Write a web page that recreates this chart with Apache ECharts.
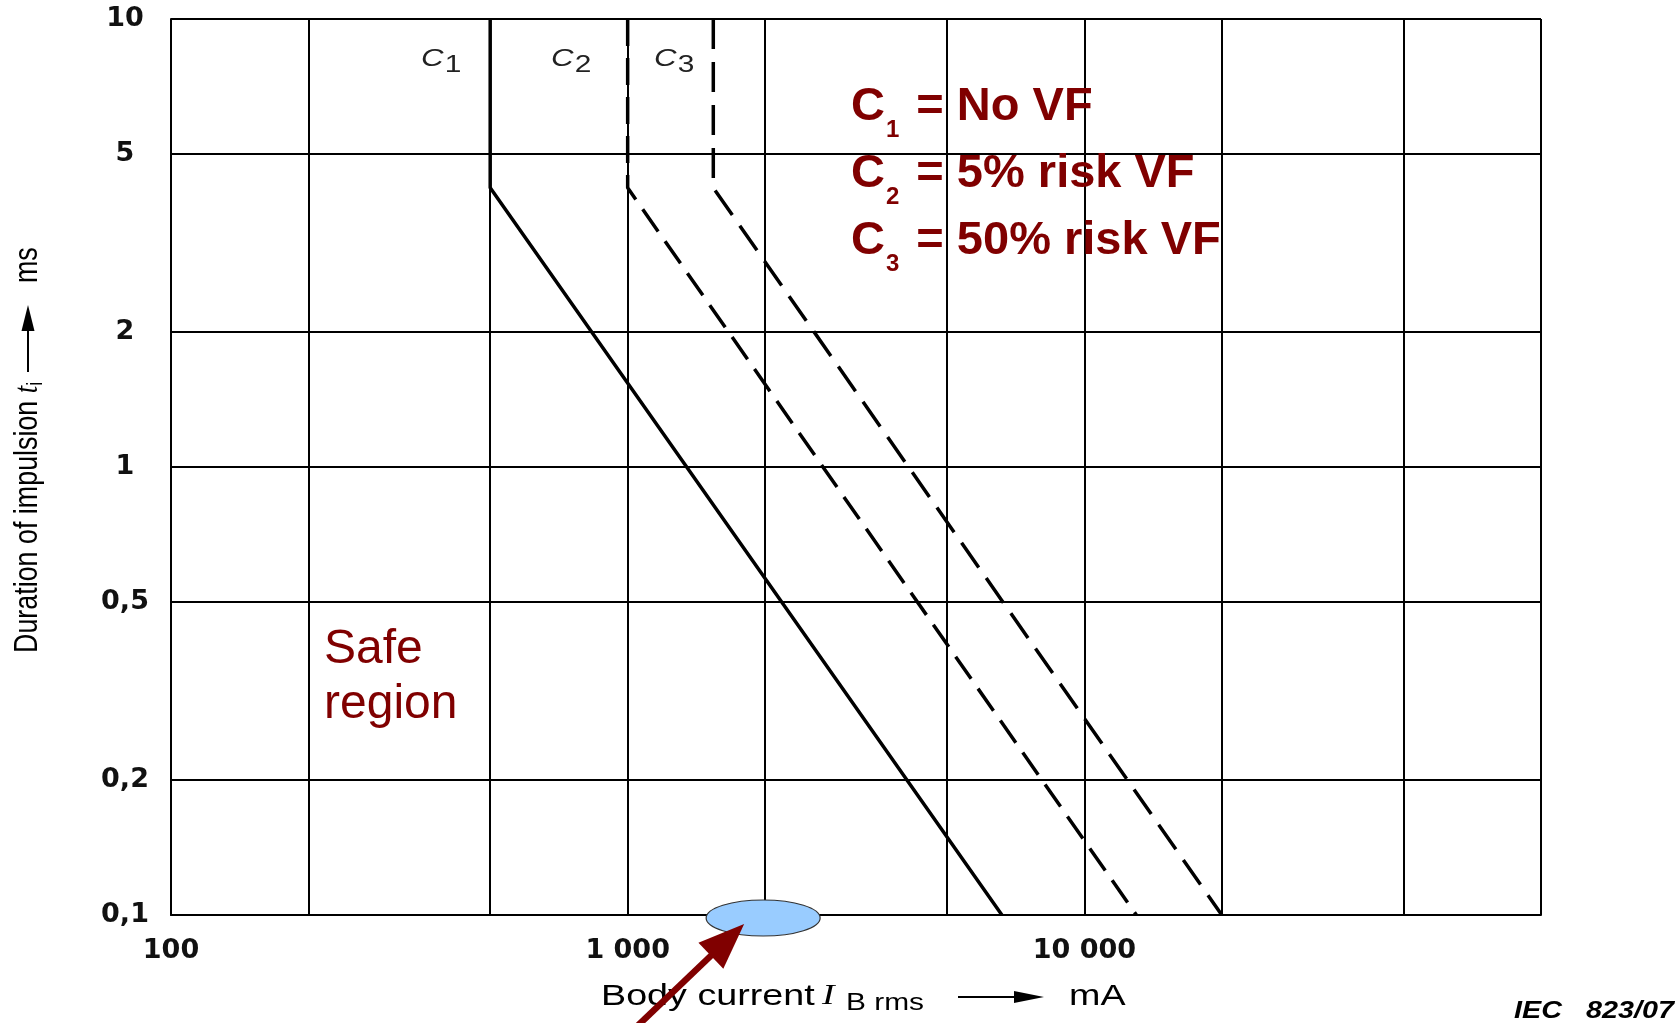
<!DOCTYPE html>
<html>
<head>
<meta charset="utf-8">
<title>Impulse current – VF thresholds</title>
<script src="https://cdn.jsdelivr.net/npm/echarts@6/dist/echarts.min.js"></script>
<style>
  html, body { margin: 0; padding: 0; background: #fff; }
  #chart { width: 1678px; height: 1023px; }
</style>
</head>
<body>
<div id="chart"></div>
<script>
// body current (mA) / impulse duration (ms)
const c1Current = [500, 500, 6600];
const c1Duration = [10, 4.2, 0.1];
const c2Current = [1000, 1000, 13000];
const c2Duration = [10, 4.2, 0.1];
const c3Current = [1540, 1540, 20000];
const c3Duration = [10, 4.2, 0.1];

const xGridValues = [100, 200, 500, 1000, 2000, 5000, 10000, 20000, 50000, 100000];
const xLabelValues = [100, 1000, 10000];
const yGridValues = [0.1, 0.2, 0.5, 1, 2, 5, 10];

const legendLines = [
  ['1', ' = No VF'],
  ['2', ' = 5% risk VF'],
  ['3', ' = 50% risk VF']
];

const pairs = (xs, ys) => xs.map((x, i) => [x, ys[i]]);
const thousands = v => String(v).replace(/\B(?=(\d{3})+(?!\d))/g, ' ');
const decimalComma = v => String(v).replace('.', ',');

const ink = '#000';
const red = '#800000';

const chart = echarts.init(document.getElementById('chart'));

chart.setOption({
  animation: false,
  grid: { left: 171, right: 137, top: 19, bottom: 108 },
  xAxis: {
    type: 'log',
    logBase: 10,
    min: 100,
    max: 100000,
    axisLine: { show: true, lineStyle: { color: ink, width: 2 } },
    axisTick: { show: false, customValues: xGridValues },
    splitLine: { show: true, lineStyle: { color: ink, width: 2 } },
    axisLabel: {
      customValues: xLabelValues,
      formatter: thousands,
      fontFamily: 'DejaVu Sans',
      fontWeight: 'bold',
      fontSize: 27,
      color: '#111',
      margin: 22
    }
  },
  yAxis: {
    type: 'log',
    logBase: 10,
    min: 0.1,
    max: 10,
    axisLine: { show: true, lineStyle: { color: ink, width: 2 } },
    axisTick: { show: false, customValues: yGridValues },
    splitLine: { show: true, lineStyle: { color: ink, width: 2 } },
    axisLabel: {
      customValues: yGridValues,
      formatter: decimalComma,
      fontFamily: 'DejaVu Sans',
      fontWeight: 'bold',
      fontSize: 27,
      color: '#111',
      align: 'center',
      margin: 46
    }
  },
  series: [
    {
      name: 'C1', type: 'line', symbol: 'none', silent: true, z: 5,
      data: pairs(c1Current, c1Duration),
      lineStyle: { color: '#000', width: 3.5 }
    },
    {
      name: 'C2', type: 'line', symbol: 'none', silent: true, z: 5,
      data: pairs(c2Current, c2Duration),
      lineStyle: { color: '#000', width: 3.5, type: [27, 12] }
    },
    {
      name: 'C3', type: 'line', symbol: 'none', silent: true, z: 5,
      data: pairs(c3Current, c3Duration),
      lineStyle: { color: '#000', width: 3.5, type: [30, 13] }
    }
  ]
});

// annotations
const txt = (x, y, style, extra) =>
  Object.assign({ type: 'text', x, y, silent: true, z: 50, style }, extra || {});

const measureCtx = document.createElement('canvas').getContext('2d');
const measure = (t, font) => { measureCtx.font = font; return measureCtx.measureText(t).width; };

const bigFont = 'bold 47px "Liberation Sans"';
const subFont = 'bold 24px "Liberation Sans"';

const curveRich = {
  c: { fontSize: 24, fontStyle: 'italic', fontFamily: 'Liberation Sans', fill: '#222', lineHeight: 26, verticalAlign: 'top' },
  d: { fontSize: 23, fontFamily: 'Liberation Sans', fill: '#222', lineHeight: 24, verticalAlign: 'top', padding: [7, 0, 0, 1] }
};

const graphics = [];

legendLines.forEach((l, i) => {
  const y = 107 + i * 67;
  const wC = measure('C', bigFont);
  const wS = measure(l[0], subFont);
  graphics.push(txt(851, y, { text: 'C', font: bigFont, fill: red, verticalAlign: 'middle' }));
  graphics.push(txt(851 + wC + 1, y + 23, { text: l[0], font: subFont, fill: red, verticalAlign: 'middle' }));
  graphics.push(txt(851 + wC + wS + 5, y, { text: l[1], font: bigFont, fill: red, verticalAlign: 'middle' }));
});

[[421, '1'], [551, '2'], [654, '3']].forEach(p => {
  graphics.push(txt(p[0], 47, {
    text: '{c|C}{d|' + p[1] + '}',
    rich: curveRich,
    verticalAlign: 'top'
  }, { scaleX: 1.3 }));
});

graphics.push(txt(324, 622, {
  text: 'Safe\nregion',
  font: '48px "Liberation Sans"',
  lineHeight: 55,
  fill: red,
  verticalAlign: 'top'
}));

// y axis title, reading upwards
graphics.push(txt(28, 653, {
  text: '{n|Duration of impulsion }{t|t}{s|i}',
  rich: {
    n: { fontSize: 34, fontFamily: 'Liberation Sans', fill: ink, lineHeight: 38 },
    t: { fontSize: 34, fontStyle: 'italic', fontFamily: 'Liberation Serif', fill: ink, lineHeight: 38 },
    s: { fontSize: 22, fontFamily: 'Liberation Sans', fill: ink, lineHeight: 26, verticalAlign: 'bottom' }
  },
  align: 'left',
  verticalAlign: 'middle'
}, { rotation: Math.PI / 2, scaleX: 0.79 }));
graphics.push({ type: 'line', silent: true, z: 50,
  shape: { x1: 28, y1: 372, x2: 28, y2: 328 }, style: { stroke: ink, lineWidth: 2 } });
graphics.push({ type: 'polygon', silent: true, z: 50,
  shape: { points: [[28, 305], [21.5, 331], [34.5, 331]] }, style: { fill: ink } });
graphics.push(txt(28, 283, {
  text: 'ms', font: '34px "Liberation Sans"', fill: ink, align: 'left', verticalAlign: 'middle'
}, { rotation: Math.PI / 2, scaleX: 0.79 }));

// x axis title
graphics.push(txt(601, 997, {
  text: 'Body current', font: '29px "Liberation Sans"', fill: ink, verticalAlign: 'middle'
}, { scaleX: 1.3 }));
graphics.push(txt(822, 996, {
  text: 'I', font: 'italic 29px "Liberation Serif"', fill: ink, verticalAlign: 'middle'
}, { scaleX: 1.3 }));
graphics.push(txt(846, 1004, {
  text: 'B rms', font: '23px "Liberation Sans"', fill: ink, verticalAlign: 'middle'
}, { scaleX: 1.3 }));
graphics.push({ type: 'line', silent: true, z: 50,
  shape: { x1: 958, y1: 997, x2: 1018, y2: 997 }, style: { stroke: ink, lineWidth: 2 } });
graphics.push({ type: 'polygon', silent: true, z: 50,
  shape: { points: [[1044, 997], [1014, 991], [1014, 1003]] }, style: { fill: ink } });
graphics.push(txt(1069, 997, {
  text: 'mA', font: '29px "Liberation Sans"', fill: ink, verticalAlign: 'middle'
}, { scaleX: 1.3 }));

graphics.push(txt(1514, 1012, {
  text: 'IEC', font: 'italic bold 23px "Liberation Sans"', fill: ink, verticalAlign: 'middle'
}, { scaleX: 1.25 }));
graphics.push(txt(1586, 1012, {
  text: '823/07', font: 'italic bold 23px "Liberation Sans"', fill: ink, verticalAlign: 'middle'
}, { scaleX: 1.25 }));

// highlighted spot on the current axis and the pointer arrow
const spot = chart.convertToPixel({ xAxisIndex: 0, yAxisIndex: 0 }, [2000, 0.1]);
const cx = spot[0] - 2, cy = spot[1] + 3;
graphics.push({ type: 'ellipse', silent: true, z: 60,
  shape: { cx, cy, rx: 57, ry: 18 },
  style: { fill: '#99ccff', stroke: '#333', lineWidth: 1.2 } });

const tip = [cx - 19, cy + 6];
const tail = [tip[0] - 112, tip[1] + 107];
const len = Math.hypot(tip[0] - tail[0], tip[1] - tail[1]);
const ux = (tip[0] - tail[0]) / len, uy = (tip[1] - tail[1]) / len;
const headLen = 46, headHalf = 18;
const base = [tip[0] - ux * headLen, tip[1] - uy * headLen];
graphics.push({ type: 'line', silent: true, z: 61,
  shape: { x1: tail[0], y1: tail[1], x2: base[0] + ux * 4, y2: base[1] + uy * 4 },
  style: { stroke: red, lineWidth: 6.5 } });
graphics.push({ type: 'polygon', silent: true, z: 61,
  shape: { points: [tip, [base[0] - uy * headHalf, base[1] + ux * headHalf], [base[0] + uy * headHalf, base[1] - ux * headHalf]] },
  style: { fill: red } });

chart.setOption({ graphic: graphics });
</script>
</body>
</html>
